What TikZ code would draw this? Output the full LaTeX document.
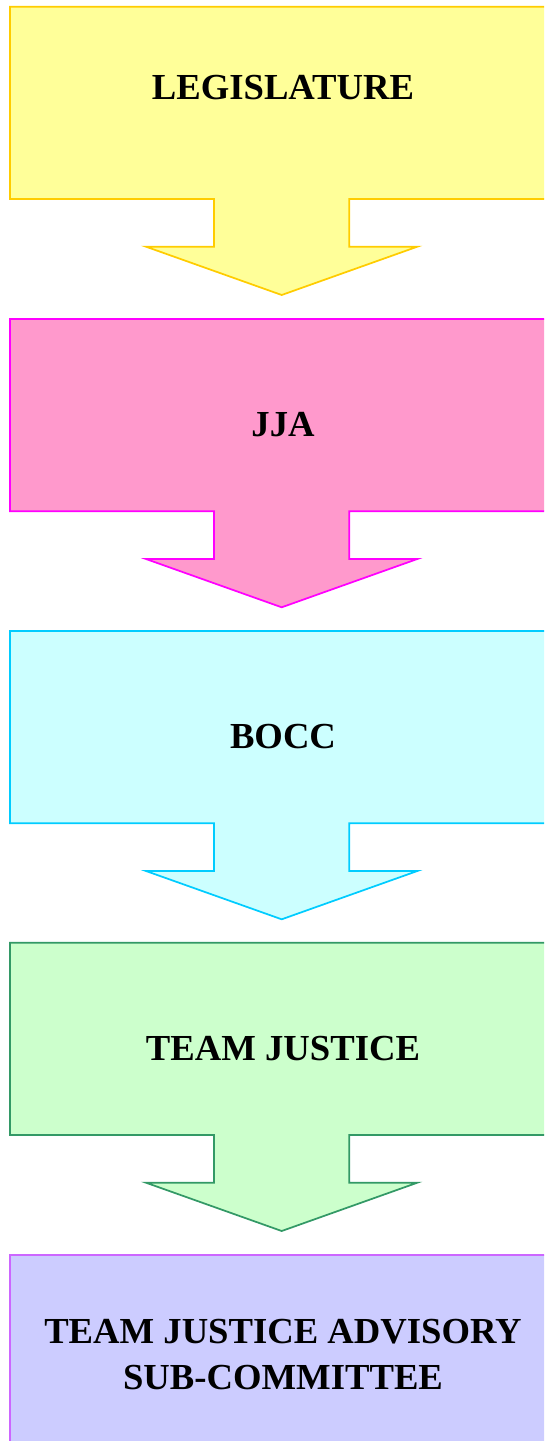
\documentclass[tikz,border=0pt]{standalone}
\usepackage{fontspec}
\setmainfont{Liberation Serif}
\usetikzlibrary{positioning}
\definecolor{legfill}{HTML}{FFFF99}
\definecolor{legdraw}{HTML}{FFCC00}
\definecolor{jjafill}{HTML}{FF99CC}
\definecolor{jjadraw}{HTML}{FF00FF}
\definecolor{boccfill}{HTML}{CCFFFF}
\definecolor{boccdraw}{HTML}{00CCFF}
\definecolor{tjfill}{HTML}{CCFFCC}
\definecolor{tjdraw}{HTML}{339966}
\definecolor{advfill}{HTML}{CCCCFF}
\definecolor{advdraw}{HTML}{CC66FF}
\begin{document}
\begin{tikzpicture}[x=0.75pt,y=-0.75pt,
	block/.style={line width=1.3pt,line join=miter},
	boxtext/.style={font=\bfseries\fontsize{27.5}{34.5}\selectfont,align=center,anchor=base}]
	\useasboundingbox (0,0) rectangle (544,1441);
	\clip (0,0) rectangle (544,1441);
	% box with arrow below
	\foreach \t/\fc/\dc in {6.7/legfill/legdraw,319/jjafill/jjadraw,631/boccfill/boccdraw,942.7/tjfill/tjdraw}
	\draw[block,fill=\fc,draw=\dc] (10,\t) -- (553,\t) -- (553,\t+192.3) -- (349.3,\t+192.3)
		-- (349.3,\t+240) -- (417.3,\t+240) -- (281.7,\t+288.3) -- (146,\t+240)
		-- (214,\t+240) -- (214,\t+192.3) -- (10,\t+192.3) -- cycle;
	\draw[block,fill=advfill,draw=advdraw] (10,1254.7) rectangle (553,1470);
	\node[boxtext] (leg) at (283,99.3) {LEGISLATURE};
	\node[boxtext] (jja) at (283,436) {JJA};
	\node[boxtext] (bocc) at (283,748.3) {BOCC};
	\node[boxtext] (tj) at (283,1060) {TEAM JUSTICE};
	\node[boxtext] (adv) at (283,1389) {TEAM JUSTICE ADVISORY\\SUB-COMMITTEE};
\end{tikzpicture}
\end{document}
